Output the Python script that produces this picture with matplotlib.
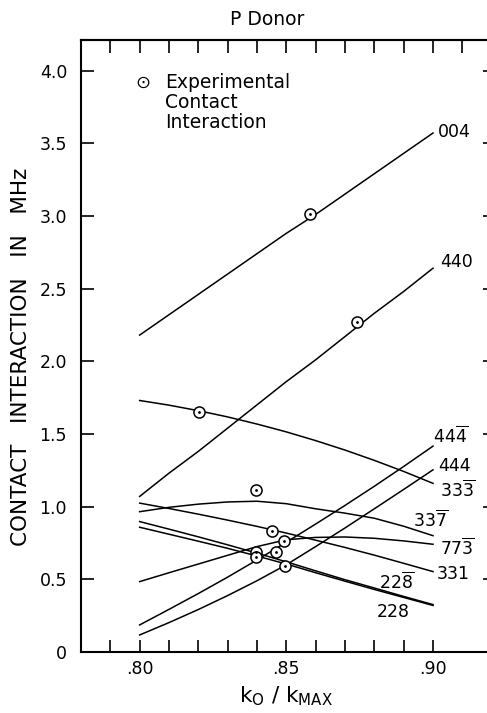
import numpy as np
import matplotlib.pyplot as plt
from matplotlib.ticker import FixedLocator

k = [0.80, 0.81, 0.82, 0.83, 0.84, 0.85, 0.86, 0.87, 0.88, 0.89, 0.90]

c_004 = [2.18, 2.32, 2.46, 2.60, 2.74, 2.88, 3.01, 3.15, 3.29, 3.43, 3.57]
c_440 = [1.07, 1.23, 1.38, 1.54, 1.70, 1.86, 2.01, 2.17, 2.33, 2.48, 2.64]
c_333b = [1.73, 1.698, 1.66, 1.617, 1.568, 1.514, 1.454, 1.389, 1.318, 1.242, 1.16]
c_337b = [0.965, 0.995, 1.017, 1.032, 1.037, 1.02, 0.985, 0.955, 0.92, 0.865, 0.80]
c_331 = [1.024, 0.987, 0.948, 0.907, 0.864, 0.818, 0.769, 0.719, 0.666, 0.61, 0.553]
c_773b = [0.484, 0.545, 0.605, 0.665, 0.725, 0.772, 0.788, 0.791, 0.782, 0.764, 0.741]
c_228b = [0.897, 0.845, 0.792, 0.737, 0.68, 0.62, 0.558, 0.497, 0.44, 0.382, 0.326]
c_228 = [0.858, 0.81, 0.762, 0.713, 0.66, 0.605, 0.545, 0.487, 0.43, 0.375, 0.32]
c_444b = [0.186, 0.293, 0.402, 0.515, 0.633, 0.755, 0.88, 1.008, 1.14, 1.276, 1.416]
c_444 = [0.117, 0.202, 0.292, 0.388, 0.49, 0.60, 0.725, 0.853, 0.985, 1.118, 1.253]

# experimental contact interaction
exp_k = [0.858, 0.8741, 0.8201, 0.8398, 0.8452, 0.8491, 0.8398, 0.8398, 0.8466, 0.8494]
exp_c = [3.01, 2.267, 1.648, 1.111, 0.835, 0.766, 0.69, 0.652, 0.688, 0.594]

curves = [c_004, c_440, c_333b, c_337b, c_331, c_773b, c_228b, c_228, c_444b, c_444]
labels = ['004', '440', r'$\mathregular{44\overline{4}}$', '444', r'$\mathregular{33\overline{3}}$',
          r'$\mathregular{33\overline{7}}$', r'$\mathregular{77\overline{3}}$', '331',
          r'$\mathregular{22\overline{8}}$', '228']
label_x = [0.9016, 0.9023, 0.8999, 0.9016, 0.9023, 0.8931, 0.9023, 0.9013, 0.8815, 0.8808]
label_y = [3.58, 2.68, 1.48, 1.28, 1.11, 0.904, 0.71, 0.537, 0.477, 0.275]

legend_lines = ['Experimental', 'Contact', 'Interaction']
legend_y = [3.917, 3.78, 3.642]

fig = plt.figure(figsize=(4.87, 7.13), dpi=100)
ax = fig.add_axes([0.1663, 0.0856, 0.8493, 0.8583])
ax.set_xlim(0.78, 0.921)
ax.set_ylim(0, 4.21)

for ys in curves:
    ax.plot(k, ys, color='black', lw=1.1)

ax.plot(exp_k, exp_c, 'o', ms=8, mfc='white', mec='black', mew=1.1, ls='none', zorder=3)
ax.plot(exp_k, exp_c, '.', ms=2, color='black', ls='none', zorder=4)

for s, x, y in zip(labels, label_x, label_y):
    ax.text(x, y, s, ha='left', va='center', fontsize=12.5)

for sp in ['left', 'bottom', 'top']:
    ax.spines[sp].set_linewidth(1.5)

ax.set_xticks([0.80, 0.85, 0.90])
ax.set_xticklabels(['.80', '.85', '.90'])
ax.xaxis.set_minor_locator(FixedLocator([0.79, 0.81, 0.82, 0.83, 0.84, 0.86, 0.87, 0.88, 0.89]))
ax.tick_params(axis='x', which='both', direction='in', length=9, width=1.2, pad=6, labelsize=12.5)

top = ax.secondary_xaxis('top')
top.set_xticks([0.79, 0.80, 0.81, 0.82, 0.83, 0.84, 0.85, 0.86, 0.87, 0.88, 0.89, 0.90, 0.91])
top.set_xticklabels([])
top.tick_params(direction='in', length=9, width=1.2)
top.spines['top'].set_linewidth(1.5)

yt = [0, 0.5, 1.0, 1.5, 2.0, 2.5, 3.0, 3.5, 4.0]
ax.set_yticks(yt)
ax.set_yticklabels(['0', '0.5', '1.0', '1.5', '2.0', '2.5', '3.0', '3.5', '4.0'])
ax.tick_params(axis='y', direction='in', length=9, width=1.2, right=True, pad=10, labelsize=12.5)

ax.text(0.8011, legend_y[0], u'\u2299', ha='center', va='center', fontsize=13)
for s, y in zip(legend_lines, legend_y):
    ax.text(0.8086, y, s, ha='left', va='center', fontsize=13.5)

fig.text(0.548, 0.973, 'P Donor', ha='center', va='center', fontsize=13.5)
fig.text(0.044, 0.50, 'CONTACT   INTERACTION   IN   MHz', rotation=90, ha='center', va='center', fontsize=15.5)
fig.text(0.587, 0.024, r'$\mathregular{k_O\ /\ k_{MAX}}$', ha='center', va='center', fontsize=15.5)

fig.savefig('out.png', dpi=100)
